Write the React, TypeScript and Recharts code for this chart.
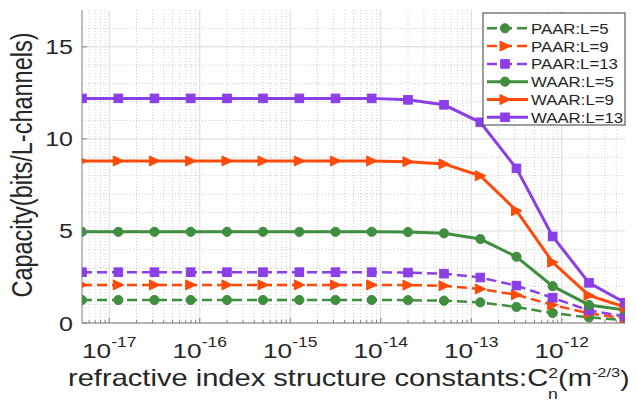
import React from 'react';
import { LineChart, Line, XAxis, YAxis, ReferenceLine } from 'recharts';

// ---------- data ----------
const xValues = [5.0e-18, 1.26e-17, 3.16e-17, 7.94e-17, 2.0e-16, 5.0e-16, 1.26e-15, 3.16e-15, 7.94e-15, 2.0e-14, 5.0e-14, 1.26e-13, 3.16e-13, 7.94e-13, 2.0e-12, 5.0e-12];
const paarL5 = [1.25, 1.25, 1.25, 1.25, 1.25, 1.25, 1.25, 1.25, 1.25, 1.24, 1.21, 1.12, 0.87, 0.54, 0.3, 0.16];
const paarL9 = [2.07, 2.07, 2.07, 2.07, 2.07, 2.07, 2.07, 2.07, 2.07, 2.06, 2.02, 1.85, 1.53, 0.98, 0.52, 0.26];
const paarL13 = [2.76, 2.76, 2.76, 2.76, 2.76, 2.76, 2.76, 2.76, 2.76, 2.74, 2.68, 2.47, 2.03, 1.37, 0.68, 0.35];
const waarL5 = [4.95, 4.95, 4.95, 4.95, 4.95, 4.95, 4.95, 4.95, 4.95, 4.94, 4.87, 4.56, 3.6, 2.0, 0.98, 0.7];
const waarL9 = [8.8, 8.8, 8.8, 8.8, 8.8, 8.8, 8.8, 8.8, 8.8, 8.76, 8.64, 8.0, 6.1, 3.3, 1.5, 0.86];
const waarL13 = [12.2, 12.2, 12.2, 12.2, 12.2, 12.2, 12.2, 12.2, 12.2, 12.12, 11.85, 10.9, 8.4, 4.7, 2.18, 1.1];

const seriesNames = ['PAAR:L=5', 'PAAR:L=9', 'PAAR:L=13', 'WAAR:L=5', 'WAAR:L=9', 'WAAR:L=13'];
const seriesKeys = ['paar5', 'paar9', 'paar13', 'waar5', 'waar9', 'waar13'];
const seriesValues = [paarL5, paarL9, paarL13, waarL5, waarL9, waarL13];

const majorXTicks = [1e-17, 1e-16, 1e-15, 1e-14, 1e-13, 1e-12];
const majorXExponents = ['-17', '-16', '-15', '-14', '-13', '-12'];
const yTicks = [0, 5, 10, 15];
const xDomain = [5.0e-18, 5.0e-12];
const yDomain = [0, 17];

// ---------- styles ----------
const GREEN = '#3f8f3f';
const ORANGE = '#ff4a0a';
const PURPLE = '#8b3fe6';
const seriesColors = [GREEN, ORANGE, PURPLE, GREEN, ORANGE, PURPLE];
const seriesShapes = ['circle', 'triangle', 'square', 'circle', 'triangle', 'square'];
const seriesDashed = [true, true, true, false, false, false];
const AXIS = '#7f7f7f';
const TEXT = '#262626';
const FONT = '"Liberation Sans", Arial, Helvetica, sans-serif';
const SX = 1.25;

const data = xValues.map((x, i) => {
  const row: any = { x };
  seriesKeys.forEach((k, s) => { row[k] = seriesValues[s][i]; });
  return row;
});

// minor grid / tick values (axis decoration, not data)
const minorXTicks: number[] = [];
for (let e = -18; e <= -12; e++) {
  for (let m = 2; m <= 9; m++) {
    const v = m * Math.pow(10, e);
    if (v > xDomain[0] * 1.0001 && v < xDomain[1] * 0.9999) minorXTicks.push(v);
  }
}
const minorYTicks: number[] = [];
for (let v = 1; v < yDomain[1]; v++) if (v % 5 !== 0) minorYTicks.push(v);
const allXTicks = [...majorXTicks, ...minorXTicks].sort((a, b) => a - b);
const isMajorX = (v: number) => majorXTicks.some((m) => Math.abs(m - v) / m < 1e-6);

function Marker({ shape, cx, cy, color }: { shape: string; cx: number; cy: number; color: string }) {
  if (cx == null || cy == null || isNaN(cx) || isNaN(cy)) return null;
  if (shape === 'circle') return <circle cx={cx} cy={cy} r={4.6} fill={color} stroke={color} strokeWidth={1} />;
  if (shape === 'triangle')
    return <polygon points={`${cx - 5},${cy - 5} ${cx + 5.5},${cy} ${cx - 5},${cy + 5}`} fill={color} stroke={color} strokeWidth={1} />;
  return <rect x={cx - 4.3} y={cy - 4.3} width={8.6} height={8.6} fill={color} stroke={color} strokeWidth={1} />;
}

const makeDot = (shape: string, color: string) => (props: any) => (
  <Marker key={`d-${props.index}`} shape={shape} cx={props.cx} cy={props.cy} color={color} />
);

function BottomTick(props: any) {
  const { x, y, payload } = props;
  const v = payload.value;
  const major = isMajorX(v);
  const idx = majorXTicks.findIndex((m) => Math.abs(m - v) / m < 1e-6);
  return (
    <g>
      <line x1={x} x2={x} y1={y} y2={y - (major ? 5 : 3)} stroke={AXIS} strokeWidth={1} />
      {major && (
        <g transform={`translate(${x},${y + 35}) scale(${SX},1)`}>
          <text x={0} y={0} textAnchor="middle" fontFamily={FONT} fill={TEXT} fontSize={21}>
            10<tspan dy={-11} fontSize={14}>{majorXExponents[idx]}</tspan>
          </text>
        </g>
      )}
    </g>
  );
}

function TopTick(props: any) {
  const { x, y, payload } = props;
  const major = isMajorX(payload.value);
  return <line x1={x} x2={x} y1={y} y2={y + (major ? 5 : 3)} stroke={AXIS} strokeWidth={1} />;
}

function LeftTick(props: any) {
  const { x, y, payload } = props;
  return (
    <g>
      <line x1={x} x2={x + 5} y1={y} y2={y} stroke={AXIS} strokeWidth={1} />
      <g transform={`translate(${x - 9},${y + 7.5}) scale(${SX},1)`}>
        <text x={0} y={0} textAnchor="end" fontFamily={FONT} fill={TEXT} fontSize={20}>{payload.value}</text>
      </g>
    </g>
  );
}

function RightTick(props: any) {
  const { x, y } = props;
  return <line x1={x} x2={x - 5} y1={y} y2={y} stroke={AXIS} strokeWidth={1} />;
}

function Legend() {
  const left = 483, top = 13, w = 142, h = 112, rowH = 17.8, firstRow = 28.3;
  return (
    <g>
      <rect x={left} y={top} width={w} height={h} fill="#ffffff" stroke="#3a3a3a" strokeWidth={1} />
      {seriesNames.map((name, i) => {
        const cy = firstRow + i * rowH;
        return (
          <g key={name}>
            <line x1={487} x2={528} y1={cy} y2={cy} stroke={seriesColors[i]} strokeWidth={seriesDashed[i] ? 2.5 : 3}
              strokeDasharray={seriesDashed[i] ? '10 5' : undefined} />
            <Marker shape={seriesShapes[i]} cx={505} cy={cy} color={seriesColors[i]} />
            <g transform={`translate(531,${cy + 5.5}) scale(1.12,1)`}>
              <text x={0} y={0} fontFamily={FONT} fontSize={15} fill={TEXT}>{name}</text>
            </g>
          </g>
        );
      })}
    </g>
  );
}

function Labels() {
  return (
    <g>
      <g transform={`translate(32,165) scale(${SX},1) rotate(-90)`}>
        <text x={0} y={0} textAnchor="middle" fontFamily={FONT} fontSize={23.5} fill={TEXT}>Capacity(bits/L-channels)</text>
      </g>
      <g transform={`translate(68,386) scale(1.265,1)`}>
        <text x={0} y={0} fontFamily={FONT} fontSize={23} fill={TEXT}>
          refractive index structure constants:C
          <tspan dy={-8} fontSize={14}>2</tspan>
          <tspan dx={-7.8} dy={21} fontSize={14}>n</tspan>
          <tspan dy={-13} fontSize={23}>(m</tspan>
          <tspan dy={-9} fontSize={13}>-2/3</tspan>
          <tspan dy={9} fontSize={22}>)</tspan>
        </text>
      </g>
    </g>
  );
}

export default function App() {
  return (
    <div style={{ position: 'absolute', left: 0, top: 0, width: 637, height: 408, background: '#ffffff' }}>
      <LineChart width={637} height={408} data={data} margin={{ top: 10, right: 12, bottom: 0, left: 0 }}>
        {minorXTicks.map((v) => (
          <ReferenceLine key={`mx${v}`} x={v} stroke="#cfcfcf" strokeDasharray="1 2" strokeWidth={1} ifOverflow="hidden" />
        ))}
        {minorYTicks.map((v) => (
          <ReferenceLine key={`my${v}`} y={v} stroke="#cfcfcf" strokeDasharray="1 2" strokeWidth={1} />
        ))}
        {majorXTicks.map((v) => (
          <ReferenceLine key={`Mx${v}`} x={v} stroke="#dadada" strokeWidth={1} />
        ))}
        {yTicks.map((v) => (
          <ReferenceLine key={`My${v}`} y={v} stroke="#dadada" strokeWidth={1} />
        ))}
        <XAxis dataKey="x" type="number" scale="log" domain={xDomain} allowDataOverflow ticks={allXTicks}
          interval={0} height={85} tickSize={0} tickMargin={0} tickLine={false} axisLine={{ stroke: AXIS }} tick={<BottomTick />} />
        <XAxis xAxisId="top" orientation="top" dataKey="x" type="number" scale="log" domain={xDomain} allowDataOverflow
          ticks={allXTicks} interval={0} height={0} tickSize={0} tickMargin={0} tickLine={false} axisLine={{ stroke: AXIS }} tick={<TopTick />} />
        <YAxis type="number" domain={yDomain} ticks={yTicks} interval={0} width={82} tickSize={0} tickMargin={0}
          tickLine={false} axisLine={{ stroke: AXIS }} tick={<LeftTick />} allowDataOverflow />
        <YAxis yAxisId="right" orientation="right" type="number" domain={yDomain} ticks={yTicks} interval={0} width={0}
          tickSize={0} tickMargin={0} tickLine={false} axisLine={{ stroke: AXIS }} tick={<RightTick />} allowDataOverflow />
        {seriesKeys.map((k, i) => (
          <Line key={k} dataKey={k} name={seriesNames[i]} type="linear" stroke={seriesColors[i]}
            strokeWidth={seriesDashed[i] ? 2.5 : 3} strokeDasharray={seriesDashed[i] ? '10 5' : undefined}
            dot={makeDot(seriesShapes[i], seriesColors[i])} activeDot={false} isAnimationActive={false} />
        ))}
      </LineChart>
      <svg width={637} height={408} style={{ position: 'absolute', left: 0, top: 0, pointerEvents: 'none' }}>
        <Legend />
        <Labels />
      </svg>
    </div>
  );
}
